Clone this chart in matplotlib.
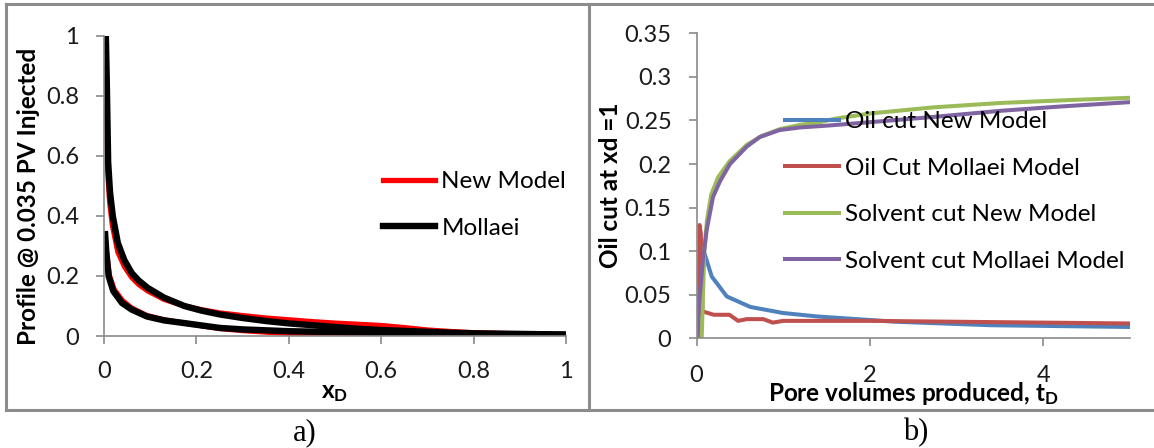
import matplotlib
matplotlib.use("Agg")
import matplotlib.pyplot as plt
from matplotlib.lines import Line2D
import numpy as np

plt.rcParams['font.family'] = ['Lato', 'DejaVu Sans']
plt.rcParams['mathtext.fontset'] = 'custom'
plt.rcParams['mathtext.rm'] = 'Lato'
plt.rcParams['mathtext.bf'] = 'Lato:bold'
plt.rcParams['mathtext.it'] = 'Lato:italic'

# ---- panel a): concentration profiles at 0.035 PV injected ----
xd_up_new = [0.004, 0.008, 0.012, 0.018, 0.03, 0.044, 0.06, 0.075, 0.095, 0.13, 0.174,
             0.21, 0.25, 0.3, 0.35, 0.4, 0.45, 0.5, 0.55, 0.6, 0.65, 0.7, 0.75, 0.8, 0.9, 1.0]
prof_up_new = [0.9, 0.55, 0.45, 0.37, 0.28, 0.232, 0.195, 0.172, 0.15, 0.122, 0.1,
               0.088, 0.077, 0.068, 0.06, 0.054, 0.048, 0.043, 0.039, 0.035, 0.028, 0.02,
               0.015, 0.011, 0.007, 0.004]
xd_lo_new = [0.002, 0.006, 0.012, 0.022, 0.04, 0.06, 0.093, 0.13, 0.174, 0.25, 0.3, 0.4,
             0.5, 0.6, 0.7, 0.8, 1.0]
prof_lo_new = [0.33, 0.27, 0.2, 0.155, 0.118, 0.093, 0.068, 0.054, 0.043, 0.025, 0.018,
               0.008, 0.004, 0.002, 0.001, 0.0005, 0.0]

xd_up_mol = [0.004, 0.006, 0.009, 0.013, 0.019, 0.03, 0.044, 0.06, 0.075, 0.095, 0.13,
             0.174, 0.21, 0.25, 0.3, 0.35, 0.4, 0.45, 0.5, 0.55, 0.6, 0.65, 0.7, 0.75, 0.8,
             0.9, 1.0]
prof_up_mol = [1.0, 0.85, 0.58, 0.48, 0.40, 0.31, 0.253, 0.21, 0.185, 0.16, 0.128,
               0.1, 0.085, 0.072, 0.06, 0.05, 0.042, 0.036, 0.03, 0.024, 0.02, 0.017,
               0.014, 0.011, 0.009, 0.007, 0.005]
xd_lo_mol = [0.002, 0.005, 0.01, 0.02, 0.039, 0.06, 0.093, 0.13, 0.174, 0.25, 0.3, 0.4,
             0.5, 0.6, 0.7, 0.8, 0.9, 1.0]
prof_lo_mol = [0.35, 0.28, 0.2, 0.15, 0.11, 0.088, 0.065, 0.052, 0.043, 0.027, 0.022,
               0.016, 0.013, 0.01, 0.008, 0.006, 0.005, 0.004]

# ---- panel b): effluent cuts at xd = 1 ----
td_oil_new = [0.05, 0.07, 0.1, 0.175, 0.35, 0.62, 1.0, 1.4, 2.3, 3.4, 5.0]
oil_new = [0.0, 0.105, 0.095, 0.071, 0.048, 0.036, 0.029, 0.025, 0.019, 0.015, 0.013]

td_oil_mol = [0.02, 0.035, 0.05, 0.07, 0.1, 0.2, 0.38, 0.48, 0.58, 0.77, 0.88, 1.0,
              2.0, 3.0, 4.0, 5.0]
oil_mol = [0.0, 0.13, 0.12, 0.03, 0.03, 0.027, 0.027, 0.02, 0.022, 0.022, 0.018, 0.02,
           0.02, 0.019, 0.018, 0.017]

td_solv_new = [0.06, 0.09, 0.12, 0.17, 0.25, 0.38, 0.58, 0.75, 0.96, 1.2, 1.42, 1.6,
               2.0, 2.73, 3.5, 4.2, 5.0]
solv_new = [0.0, 0.1, 0.135, 0.165, 0.185, 0.203, 0.222, 0.232, 0.24, 0.245, 0.248,
            0.252, 0.258, 0.265, 0.27, 0.273, 0.276]

td_solv_mol = [0.0, 0.03, 0.07, 0.117, 0.19, 0.27, 0.386, 0.58, 0.73, 0.96, 1.2, 1.5,
               2.0, 2.73, 3.5, 4.2, 5.0]
solv_mol = [0.0, 0.04, 0.086, 0.124, 0.162, 0.18, 0.2, 0.22, 0.231, 0.239, 0.242, 0.244,
            0.248, 0.254, 0.261, 0.266, 0.271]

W, H = 1154, 448
fig = plt.figure(figsize=(W / 100, H / 100), dpi=100)


def fx(px):
    return px / W


def fy(py):
    return 1 - py / H


grey = '#8a8a8a'
tick_fs = 17
text_fs = 17.5


def style_axes(ax):
    for s in ('top', 'right'):
        ax.spines[s].set_visible(False)
    for s in ('left', 'bottom'):
        ax.spines[s].set_color(grey)
        ax.spines[s].set_linewidth(1.2)
    ax.tick_params(direction='out', length=6, width=1.2, color=grey,
                   labelsize=tick_fs, labelcolor='#1a1a1a')


# panel a
ax1 = fig.add_axes([fx(104), fy(336), fx(566) - fx(104), fy(36) - fy(336)])
style_axes(ax1)
ax1.plot(xd_up_new, prof_up_new, color='#ff0000', lw=3.8, solid_capstyle='butt')
ax1.plot(xd_lo_new, prof_lo_new, color='#ff0000', lw=3.8, solid_capstyle='butt')
ax1.plot(xd_up_mol, prof_up_mol, color='black', lw=4.6, solid_capstyle='butt')
ax1.plot(xd_lo_mol, prof_lo_mol, color='black', lw=4.6, solid_capstyle='butt')
ax1.set_xlim(0, 1)
ax1.set_ylim(0, 1)
ax1.set_xticks([0, 0.2, 0.4, 0.6, 0.8, 1])
ax1.set_xticklabels(['0', '0.2', '0.4', '0.6', '0.8', '1'])
ax1.set_yticks([0, 0.2, 0.4, 0.6, 0.8, 1])
ax1.set_yticklabels(['0', '0.2', '0.4', '0.6', '0.8', '1'])
ax1.tick_params(axis='x', pad=12)
ax1.tick_params(axis='y', pad=12)
ax1.set_xlabel(r'$\mathbf{x}_\mathbf{D}$', fontsize=text_fs)
ax1.xaxis.label.set_va('center')
ax1.xaxis.set_label_coords(0.5, (336 - 393) / 300)
ax1.set_ylabel('Profile @ 0.035 PV Injected', fontsize=text_fs, fontweight='bold')
ax1.yaxis.label.set_va('center')
ax1.yaxis.set_label_coords((29 - 104) / 462, (336 - 196) / 300)
h1 = [Line2D([], [], color='#ff0000', lw=3.8), Line2D([], [], color='black', lw=4.6)]
ax1.legend(h1, ['New Model', 'Mollaei'], loc='upper left', frameon=False,
           bbox_to_anchor=(fx(383), fy(171)), bbox_transform=fig.transFigure,
           fontsize=text_fs, handlelength=2.15, handletextpad=0.25, labelspacing=1.05,
           borderpad=0, borderaxespad=0)

# panel b
ax2 = fig.add_axes([fx(696.5), fy(338.3), fx(1130) - fx(696.5), fy(33.3) - fy(338.3)])
style_axes(ax2)
ax2.plot(td_oil_new, oil_new, color='#4f81bd', lw=2.9)
ax2.plot(td_oil_mol, oil_mol, color='#c0504d', lw=2.9)
ax2.plot(td_solv_new, solv_new, color='#9bbb59', lw=2.9)
ax2.plot(td_solv_mol, solv_mol, color='#8064a2', lw=2.9)
ax2.set_xlim(0, 5)
ax2.set_ylim(0, 0.35)
ax2.set_xticks([0, 2, 4])
ax2.set_xticklabels(['0', '2', '4'])
ax2.set_yticks([0, 0.05, 0.1, 0.15, 0.2, 0.25, 0.3, 0.35])
ax2.set_yticklabels(['0', '0.05', '0.1', '0.15', '0.2', '0.25', '0.3', '0.35'])
ax2.tick_params(axis='x', pad=13)
ax2.tick_params(axis='y', pad=12)
ax2.set_xlabel(r'Pore volumes produced, $\mathbf{t}_\mathbf{D}$', fontsize=text_fs,
               fontweight='bold')
ax2.xaxis.label.set_va('center')
ax2.xaxis.set_label_coords((913 - 696.5) / 433.5, (338.3 - 393) / 305)
ax2.set_ylabel('Oil cut at xd =1', fontsize=text_fs, fontweight='bold')
ax2.yaxis.label.set_va('center')
ax2.yaxis.set_label_coords((611 - 696.5) / 433.5, (338.3 - 185) / 305)
h2 = [Line2D([], [], color=c, lw=2.9) for c in ('#4f81bd', '#c0504d', '#9bbb59', '#8064a2')]
ax2.legend(h2, ['Oil cut New Model', 'Oil Cut Mollaei Model', 'Solvent cut New Model',
                'Solvent cut Mollaei Model'],
           loc='upper left', frameon=False,
           bbox_to_anchor=(fx(785), fy(111)), bbox_transform=fig.transFigure,
           fontsize=text_fs, handlelength=2.22, handletextpad=0.25, labelspacing=1.05,
           borderpad=0, borderaxespad=0)

# frames around the two panels
frame_kw = dict(color='#8c8c8c', lw=2.2, transform=fig.transFigure)
fig.add_artist(Line2D([fx(6), fx(6)], [fy(4), fy(410)], **frame_kw))
fig.add_artist(Line2D([fx(6), 1.0], [fy(4), fy(4)], **frame_kw))
fig.add_artist(Line2D([fx(6), 1.0], [fy(410), fy(410)], **frame_kw))
fig.add_artist(Line2D([fx(589), fx(589)], [fy(4), fy(410)], **frame_kw))

# panel captions
fig.text(fx(305), fy(433), 'a)', family='Liberation Serif', fontsize=22,
         ha='center', va='center')
fig.text(fx(916), fy(433), 'b)', family='Liberation Serif', fontsize=22,
         ha='center', va='center')

fig.savefig('out.png', dpi=100)
